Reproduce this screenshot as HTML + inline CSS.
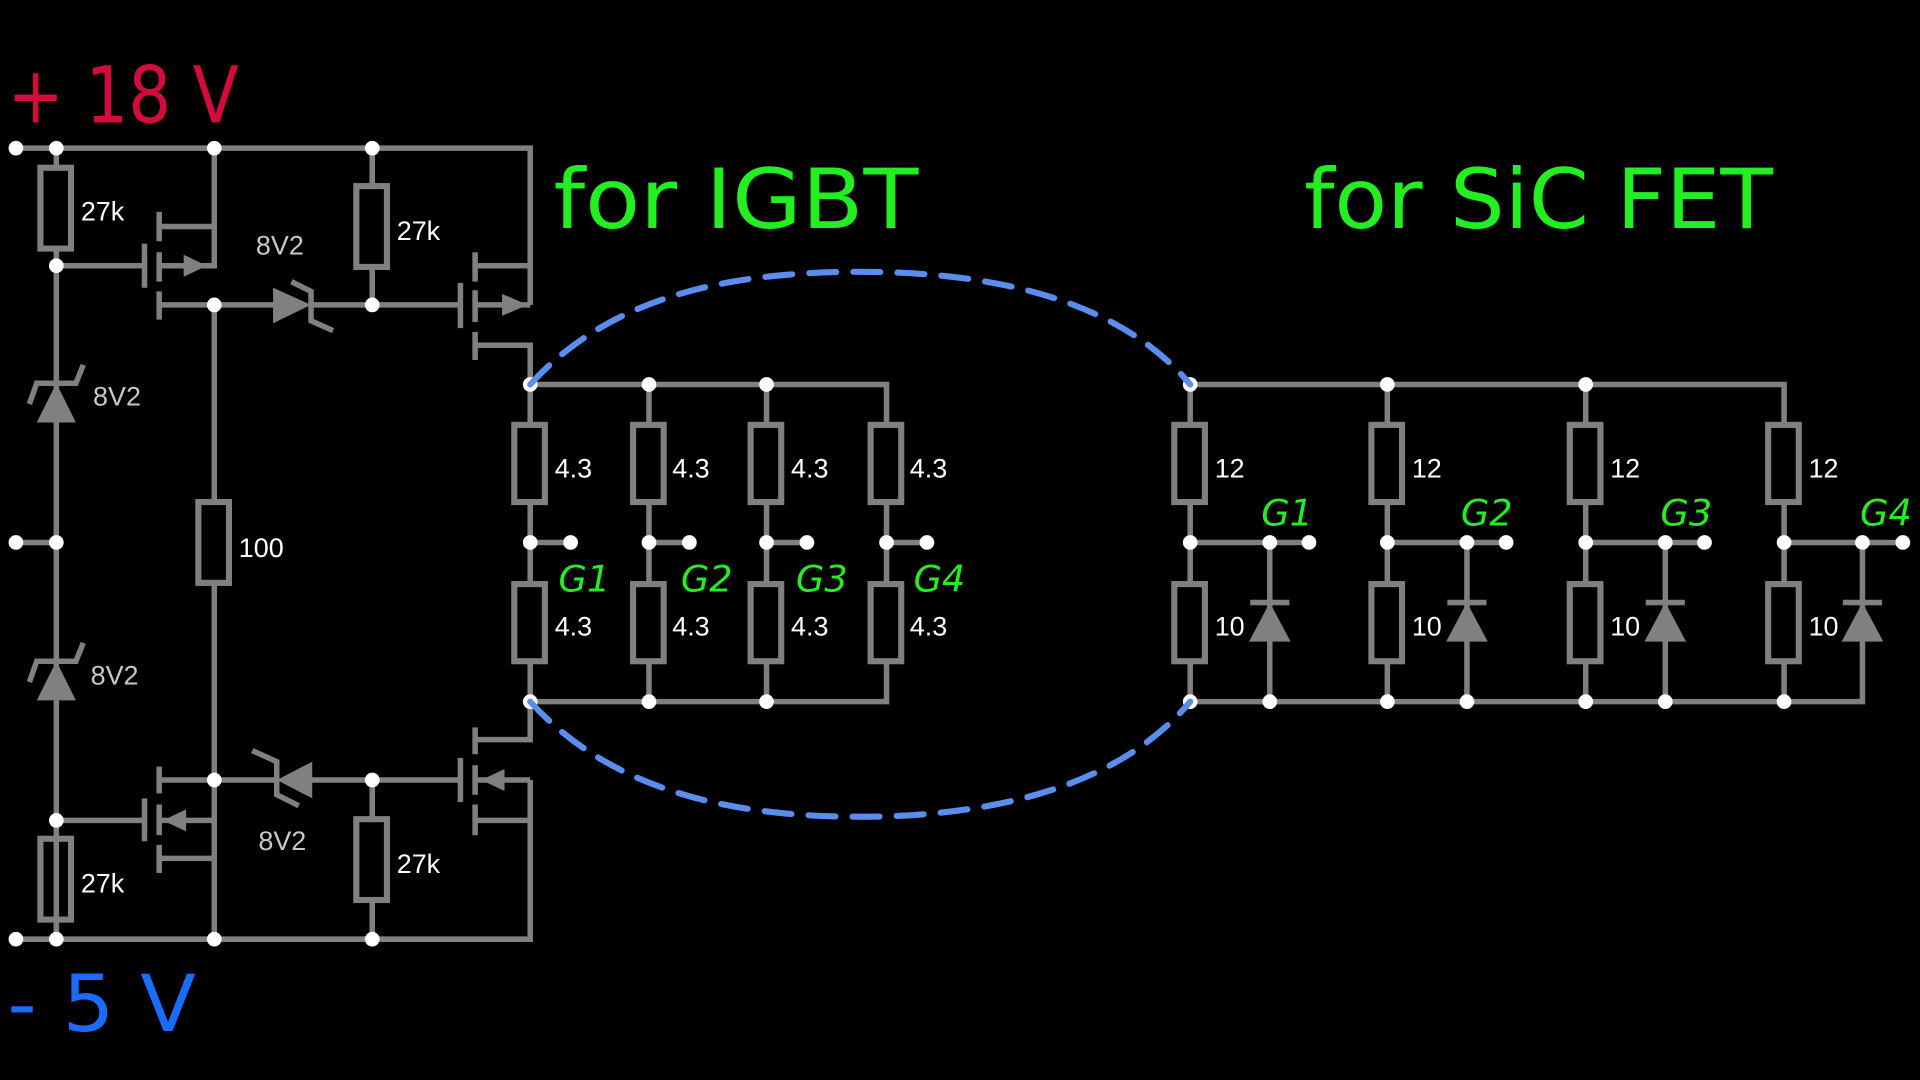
<!DOCTYPE html>
<html><head><meta charset="utf-8"><style>
html,body{margin:0;padding:0;background:#000;}
svg{display:block;}
.w{stroke:#808080;stroke-width:4.5;fill:none;stroke-linecap:butt;}
.r{stroke:#808080;stroke-width:5;fill:none;}
.d{fill:#fff;}
.a{fill:#808080;}
.lbl{font-family:"Liberation Sans",sans-serif;font-size:22px;fill:#fff;}
.z{font-family:"Liberation Sans",sans-serif;font-size:22px;fill:#c8c8c8;}
.g{font-family:"DejaVu Sans","Liberation Sans",sans-serif;font-size:30px;fill:#22ee22;font-style:italic;}
.t{font-family:"DejaVu Sans","Liberation Sans",sans-serif;}
</style></head><body>
<svg width="1920" height="1080" viewBox="0 0 1568 882" xmlns="http://www.w3.org/2000/svg">
<rect width="1568" height="882" fill="#000"/>
<text class="t" x="6" y="100" font-size="64" fill="#d40c3c" textLength="189" lengthAdjust="spacingAndGlyphs">+ 18 V</text>
<text class="t" x="6" y="842" font-size="64" fill="#1a6cff" textLength="154" lengthAdjust="spacingAndGlyphs">- 5 V</text>
<text class="t" x="452" y="186" font-size="68" fill="#22ee22" textLength="298" lengthAdjust="spacingAndGlyphs">for IGBT</text>
<text class="t" x="1065" y="186" font-size="68" fill="#22ee22" textLength="383" lengthAdjust="spacingAndGlyphs">for SiC FET</text>

<g class="w">
<path d="M13 121H433V249"/>
<path d="M46 121V137M46 203V767"/>
<path d="M175 121V217H130M130 185H175"/>
<path d="M46 217H118"/>
<path d="M118 199V235M130 173V197M130 206V230M130 238V261"/>
<path d="M130 249H175V410M175 476V670"/>
<path d="M175 249H226M252 249H376"/>
<path d="M304 121V151M304 219V249"/>
<path d="M376 231V268M388 206V230M388 237V263M388 271V294"/>
<path d="M388 217H433M388 249H433M388 282H433V314"/>
<path d="M24 330L30 313H62L68 298"/>
<path d="M24 557L30 540H62L68 525"/>
<path d="M13 443H46"/>
<path d="M238 230L254 238V262L272 270"/>
<path d="M13 767H433V637"/>
<path d="M46 683V670M46 753V767"/>
<path d="M46 670H118"/>
<path d="M118 652V687M130 626V648M130 657V682M130 690V713"/>
<path d="M130 637H175M130 670H175V767M130 701H175"/>
<path d="M175 637H226M252 637H376"/>
<path d="M304 637V667M304 736V767"/>
<path d="M376 619V655M388 594V616M388 625V649M388 657V682"/>
<path d="M388 604H433V572M388 637H433M388 670H433"/>
<path d="M206 613L226 622V649L244 658"/>
</g>
<g class="r">
<rect x="33" y="137" width="25" height="66"/>
<rect x="291" y="152" width="25" height="66"/>
<rect x="162" y="410" width="25" height="66"/>
<rect x="33" y="685" width="25" height="66"/>
<rect x="291" y="669" width="25" height="66"/>
</g>
<g class="a">
<polygon points="150,208 169,217 150,226"/>
<polygon points="410,240 431,249 410,258"/>
<polygon points="223,235 254,249 223,264"/>
<polygon points="46,313 30,345 62,345"/>
<polygon points="46,540 30,572 62,572"/>
<polygon points="133,670 152,661 152,679"/>
<polygon points="393,637 412,628 412,646"/>
<polygon points="226,637 255,622 255,652"/>
</g>
<g class="d">
<circle cx="13" cy="121" r="6"/><circle cx="46" cy="121" r="6"/><circle cx="175" cy="121" r="6"/><circle cx="304" cy="121" r="6"/>
<circle cx="46" cy="217" r="6"/><circle cx="175" cy="249" r="6"/><circle cx="304" cy="249" r="6"/>
<circle cx="13" cy="443" r="6"/><circle cx="46" cy="443" r="6"/>
<circle cx="175" cy="637" r="6"/><circle cx="304" cy="637" r="6"/><circle cx="46" cy="670" r="6"/>
<circle cx="13" cy="767" r="6"/><circle cx="46" cy="767" r="6"/><circle cx="175" cy="767" r="6"/><circle cx="304" cy="767" r="6"/>
</g>
<text class="lbl" x="66" y="180">27k</text>
<text class="lbl" x="324" y="196">27k</text>
<text class="z" x="209" y="208">8V2</text>
<text class="z" x="76" y="331">8V2</text>
<text class="lbl" x="195" y="455">100</text>
<text class="z" x="74" y="559">8V2</text>
<text class="z" x="211" y="694">8V2</text>
<text class="lbl" x="66" y="729">27k</text>
<text class="lbl" x="324" y="713">27k</text>

<g class="w">
<path d="M433 314H724V346M433 573H724V541"/>
<path d="M433 314V346M433 411V476M433 541V573"/>
<path d="M530 314V346M530 411V476M530 541V573"/>
<path d="M626 314V346M626 411V476M626 541V573"/>
<path d="M724 411V476"/>
<path d="M433 443H466M530 443H563M626 443H659M724 443H757"/>
</g>
<g class="r">
<rect x="420" y="347" width="25" height="63"/><rect x="420" y="477" width="25" height="63"/>
<rect x="517" y="347" width="25" height="63"/><rect x="517" y="477" width="25" height="63"/>
<rect x="613" y="347" width="25" height="63"/><rect x="613" y="477" width="25" height="63"/>
<rect x="711" y="347" width="25" height="63"/><rect x="711" y="477" width="25" height="63"/>
</g>
<g class="d">
<circle cx="433" cy="314" r="6"/><circle cx="530" cy="314" r="6"/><circle cx="626" cy="314" r="6"/>
<circle cx="433" cy="573" r="6"/><circle cx="530" cy="573" r="6"/><circle cx="626" cy="573" r="6"/>
<circle cx="433" cy="443" r="6"/><circle cx="466" cy="443" r="6"/>
<circle cx="530" cy="443" r="6"/><circle cx="563" cy="443" r="6"/>
<circle cx="626" cy="443" r="6"/><circle cx="659" cy="443" r="6"/>
<circle cx="724" cy="443" r="6"/><circle cx="757" cy="443" r="6"/>
</g>
<g class="lbl">
<text x="453" y="390">4.3</text><text x="549" y="390">4.3</text><text x="646" y="390">4.3</text><text x="743" y="390">4.3</text>
<text x="453" y="519">4.3</text><text x="549" y="519">4.3</text><text x="646" y="519">4.3</text><text x="743" y="519">4.3</text>
</g>
<g class="g">
<text x="456" y="483">G1</text><text x="556" y="483">G2</text><text x="650" y="483">G3</text><text x="746" y="483">G4</text>
</g>

<g class="w">
<path d="M972 314H1457V346M972 573H1521V523"/>
<path d="M972 314V346M972 411V476M972 541V573"/>
<path d="M1133 314V346M1133 411V476M1133 541V573"/>
<path d="M1295 314V346M1295 411V476M1295 541V573"/>
<path d="M1457 411V476M1457 541V573"/>
<path d="M972 443H1069M1037 443V573M1021 492H1053"/>
<path d="M1133 443H1230M1198 443V573M1182 492H1214"/>
<path d="M1295 443H1392M1360 443V573M1344 492H1376"/>
<path d="M1457 443H1554M1521 443V523M1505 492H1537"/>
</g>
<g class="a">
<polygon points="1037,492 1020,524 1054,524"/>
<polygon points="1198,492 1181,524 1215,524"/>
<polygon points="1360,492 1343,524 1377,524"/>
<polygon points="1521,492 1504,524 1538,524"/>
</g>
<g class="r">
<rect x="959" y="347" width="25" height="63"/><rect x="959" y="477" width="25" height="63"/>
<rect x="1120" y="347" width="25" height="63"/><rect x="1120" y="477" width="25" height="63"/>
<rect x="1282" y="347" width="25" height="63"/><rect x="1282" y="477" width="25" height="63"/>
<rect x="1444" y="347" width="25" height="63"/><rect x="1444" y="477" width="25" height="63"/>
</g>
<g class="d">
<circle cx="972" cy="314" r="6"/><circle cx="1133" cy="314" r="6"/><circle cx="1295" cy="314" r="6"/>
<circle cx="972" cy="573" r="6"/><circle cx="1037" cy="573" r="6"/><circle cx="1133" cy="573" r="6"/><circle cx="1198" cy="573" r="6"/><circle cx="1295" cy="573" r="6"/><circle cx="1360" cy="573" r="6"/><circle cx="1457" cy="573" r="6"/>
<circle cx="972" cy="443" r="6"/><circle cx="1037" cy="443" r="6"/><circle cx="1069" cy="443" r="6"/>
<circle cx="1133" cy="443" r="6"/><circle cx="1198" cy="443" r="6"/><circle cx="1230" cy="443" r="6"/>
<circle cx="1295" cy="443" r="6"/><circle cx="1360" cy="443" r="6"/><circle cx="1392" cy="443" r="6"/>
<circle cx="1457" cy="443" r="6"/><circle cx="1521" cy="443" r="6"/><circle cx="1554" cy="443" r="6"/>
</g>
<g class="lbl">
<text x="992" y="390">12</text><text x="1153" y="390">12</text><text x="1315" y="390">12</text><text x="1477" y="390">12</text>
<text x="992" y="519">10</text><text x="1153" y="519">10</text><text x="1315" y="519">10</text><text x="1477" y="519">10</text>
</g>
<g class="g">
<text x="1030" y="429">G1</text><text x="1193" y="429">G2</text><text x="1356" y="429">G3</text><text x="1519" y="429">G4</text>
</g>

<g fill="none" stroke="#5b8def" stroke-width="5" stroke-dasharray="22 14" stroke-linecap="round">
<path d="M433 314C500 240 600 222 702 222C800 222 910 240 972 314"/>
<path d="M433 573C500 647 600 667 702 667C800 667 910 647 972 573"/>
</g>
</svg>
</body></html>
